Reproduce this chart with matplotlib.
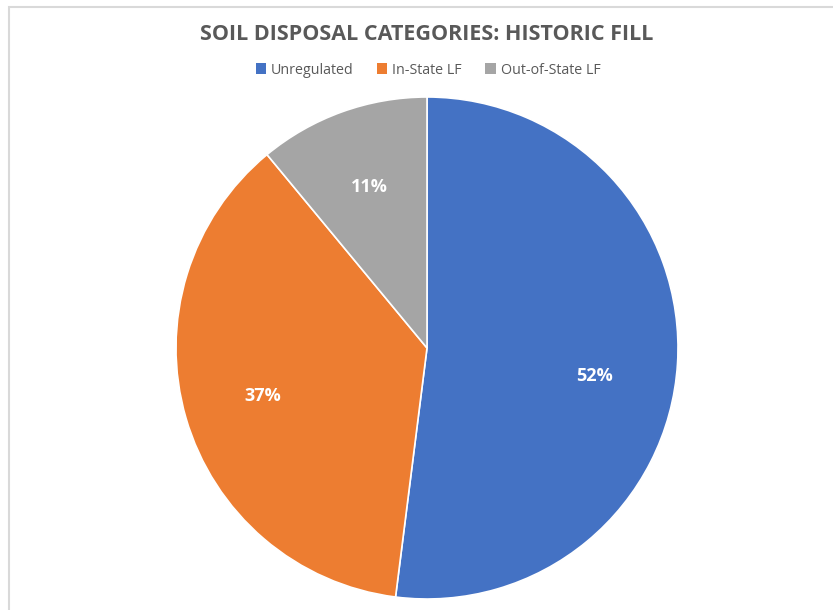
import matplotlib.pyplot as plt
from matplotlib.patches import Rectangle, Patch

# slice data for the historic fill chart
categories = ['Unregulated', 'In-State LF', 'Out-of-State LF']
shares = [52, 37, 11]
colors = ['#4472C4', '#ED7D31', '#A5A5A5']

W, H = 833, 610
fig = plt.figure(figsize=(W / 100, H / 100), dpi=100)
font = 'Open Sans'

# chart area frame (clipped on the right and bottom)
fig.add_artist(Rectangle((9 / W, -0.1), 1.2, (H - 7) / H + 0.1,
                         transform=fig.transFigure, fill=False,
                         edgecolor='#D9D9D9', linewidth=1.5))

ax = fig.add_axes([176 / W, 11 / H, 502 / W, 502 / H])
wedges, texts, autotexts = ax.pie(
    shares,
    colors=colors,
    startangle=90,
    counterclock=False,
    autopct='%d%%',
    pctdistance=0.68,
    wedgeprops=dict(edgecolor='white', linewidth=1.2),
    textprops=dict(color='white', fontsize=13, fontweight='bold', family=font),
)
ax.set_xlim(-1, 1)
ax.set_ylim(-1, 1)
ax.set_aspect('equal')

# nudge the big slice label down a bit
x, y = autotexts[0].get_position()
autotexts[0].set_position((x - 0.01, y - 0.07))

fig.text(427 / W, 1 - 35 / H, 'SOIL DISPOSAL CATEGORIES: HISTORIC FILL',
         ha='center', va='center', fontsize=15.5, fontweight='bold',
         color='#595959', family=font)

handles = [Patch(facecolor=c, edgecolor='none') for c in colors]
fig.legend(handles, categories, loc='center', bbox_to_anchor=(428 / W, 1 - 70 / H),
           ncol=3, frameon=False, labelcolor='#595959',
           handlelength=0.75, handleheight=0.75, handletextpad=0.35, columnspacing=1.6,
           prop=dict(family=font, size=10.3))

fig.savefig('out.png', dpi=100)
